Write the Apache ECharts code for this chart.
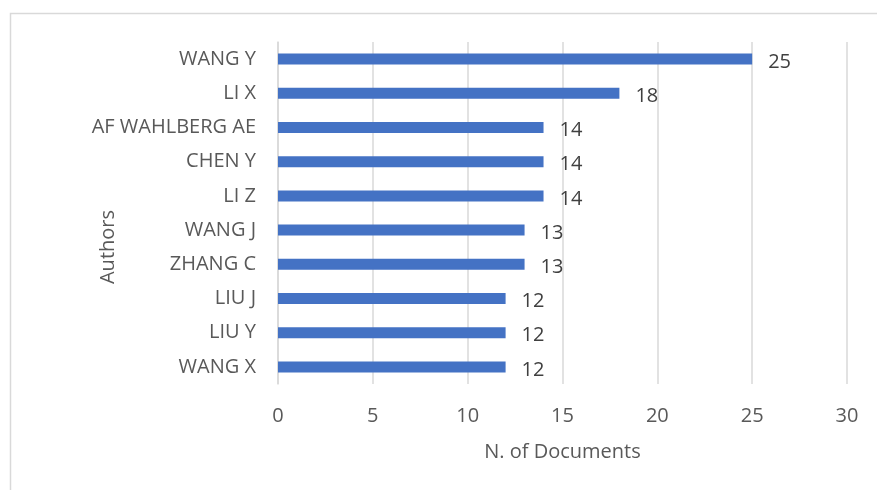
<!DOCTYPE html>
<html><head><meta charset="utf-8">
<script src="https://cdn.jsdelivr.net/npm/echarts@6/dist/echarts.min.js"></script>
<style>html,body{margin:0;padding:0;background:#fff}#c{width:877px;height:490px}</style>
</head><body><div id="c"></div>
<script>
const authors = ["WANG Y","LI X","AF WAHLBERG AE","CHEN Y","LI Z","WANG J","ZHANG C","LIU J","LIU Y","WANG X"];
const documents = [25,18,14,14,14,13,13,12,12,12];
const xTicks = [0,5,10,15,20,25,30];
const font = "'Open Sans', sans-serif";
const chart = echarts.init(document.getElementById('c'));
chart.setOption({
  animation:false,
  graphic:[{type:'rect',shape:{x:10.5,y:13.5,width:900,height:500},style:{fill:'none',stroke:'#d9d9d9',lineWidth:1.5}}],
  grid:{left:278,right:30,top:42,bottom:106,containLabel:false},
  xAxis:{type:'value',min:xTicks[0],max:xTicks[xTicks.length-1],interval:5,
    name:'N. of Documents',nameLocation:'middle',nameGap:58,nameMoveOverlap:false,
    nameTextStyle:{color:'#595959',fontSize:20,fontFamily:font},
    axisLine:{show:false},axisTick:{show:false},
    axisLabel:{color:'#595959',fontSize:20,fontFamily:font,margin:22},
    splitLine:{lineStyle:{color:'#d9d9d9',width:1.5}}},
  yAxis:{type:'category',data:authors,inverse:true,
    name:'Authors',nameLocation:'middle',nameGap:160,nameMoveOverlap:false,
    nameTextStyle:{color:'#595959',fontSize:20,fontFamily:font,padding:[0,68,0,0]},
    axisLine:{show:true,lineStyle:{color:'#d9d9d9',width:1.5}},axisTick:{show:false},
    axisLabel:{color:'#595959',fontSize:20,fontFamily:font,margin:22}},
  series:[{type:'bar',data:documents,barWidth:11,itemStyle:{color:'#4472C4'},
    label:{show:true,position:'right',distance:16,color:'#404040',fontSize:20,fontFamily:font,offset:[0,3]}}]
});
</script></body></html>
